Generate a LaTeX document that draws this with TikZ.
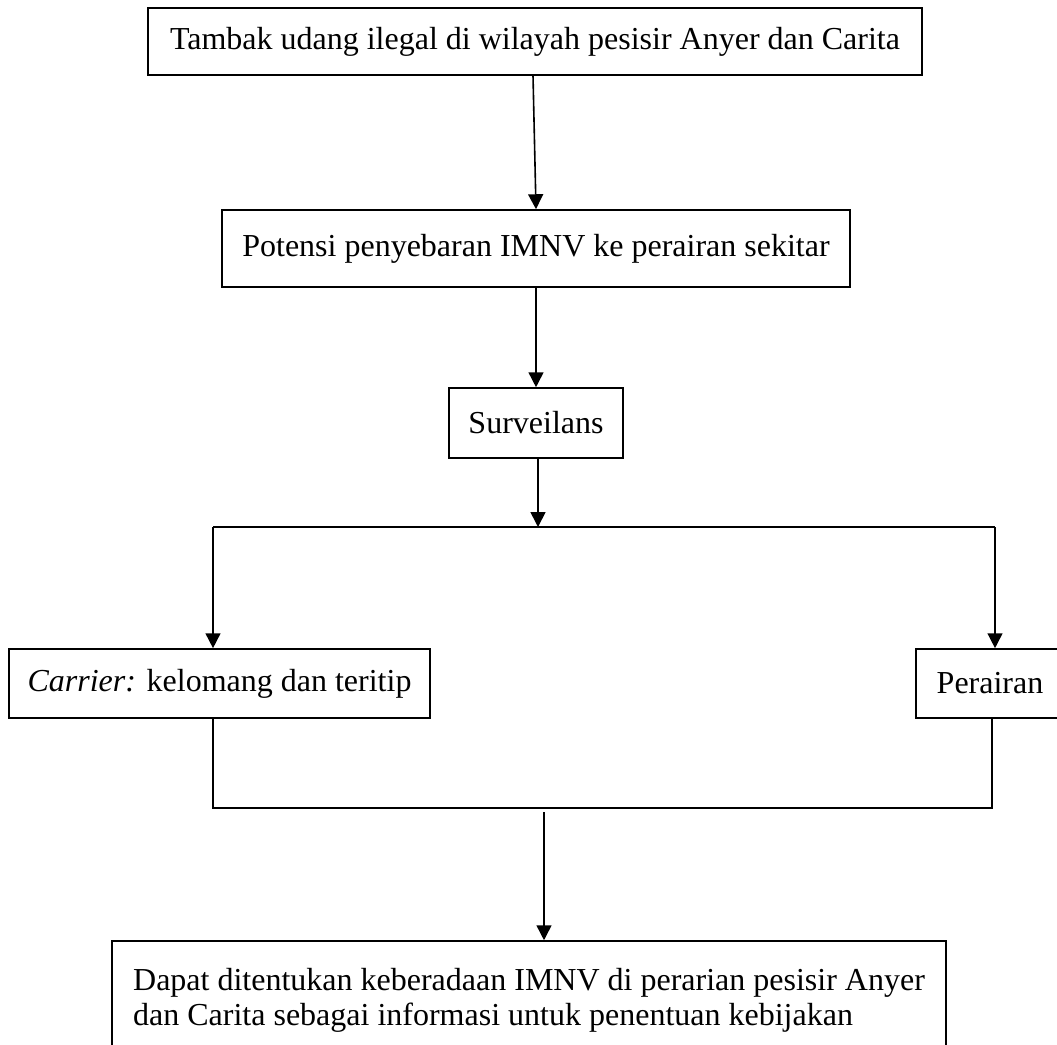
\documentclass[tikz,border=0pt]{standalone}
\usepackage{fontspec}
\setmainfont{Liberation Serif}
\usetikzlibrary{arrows.meta}
\begin{document}
\begin{tikzpicture}[x=0.375pt,y=-0.375pt,
  every node/.style={font=\fontsize{12pt}{13.2pt}\selectfont},
  fbox/.style={draw=black,line width=0.6pt,inner sep=0pt,align=center},
  conn/.style={draw=black,line width=0.6pt},
  arr/.style={conn,-{Triangle[length=5.6pt,width=5.6pt]}}]
\clip (0,0) rectangle (1057,1044);
\fill[white] (0,0) rectangle (1057,1044);
\node[fbox,minimum width=290.25pt,minimum height=25.1pt] (b1) at (535,41.5)
  {Tambak udang ilegal di wilayah pesisir Anyer dan Carita};
\node[fbox,minimum width=235.5pt,minimum height=28.9pt] (b2) at (536,248.5)
  {Potensi penyebaran IMNV ke perairan sekitar};
\node[fbox,minimum width=65.25pt,minimum height=26.25pt] (sv) at (536,423)
  {Surveilans};
\node[fbox,minimum width=157.9pt,minimum height=25.9pt] (car) at (219.5,683.5)
  {\textit{Carrier:} kelomang dan teritip};
\node[fbox,minimum width=55.5pt,minimum height=25.9pt] (per) at (990,683.5)
  {Perairan};
\node[fbox,align=left,inner xsep=7.875pt,minimum width=312.75pt,minimum height=44.25pt] (bot) at (529,1000)
  {Dapat ditentukan keberadaan IMNV di perarian pesisir Anyer\\dan Carita sebagai informasi untuk penentuan kebijakan};
\coordinate (jl) at (213,527);
\coordinate (jr) at (995,527);
\coordinate (jm) at (538,527);
\coordinate (ml) at (213,808);
\coordinate (mr) at (992,808);
\coordinate (ms) at (544,812);
\draw[arr] ([xshift=-0.75pt]b1.south) -- (b2.north);
\draw[arr] (b2.south) -- (sv.north);
\draw[arr] (sv.south -| jm) -- (jm);
\draw[conn] (jl) -- (jr);
\draw[arr] (jl) -- (jl |- car.north);
\draw[arr] (jr) -- (jr |- per.north);
\draw[conn] (ml |- car.south) -- (ml) -- (mr) -- (mr |- per.south);
\draw[arr] (ms) -- (ms |- bot.north);
\end{tikzpicture}
\end{document}
